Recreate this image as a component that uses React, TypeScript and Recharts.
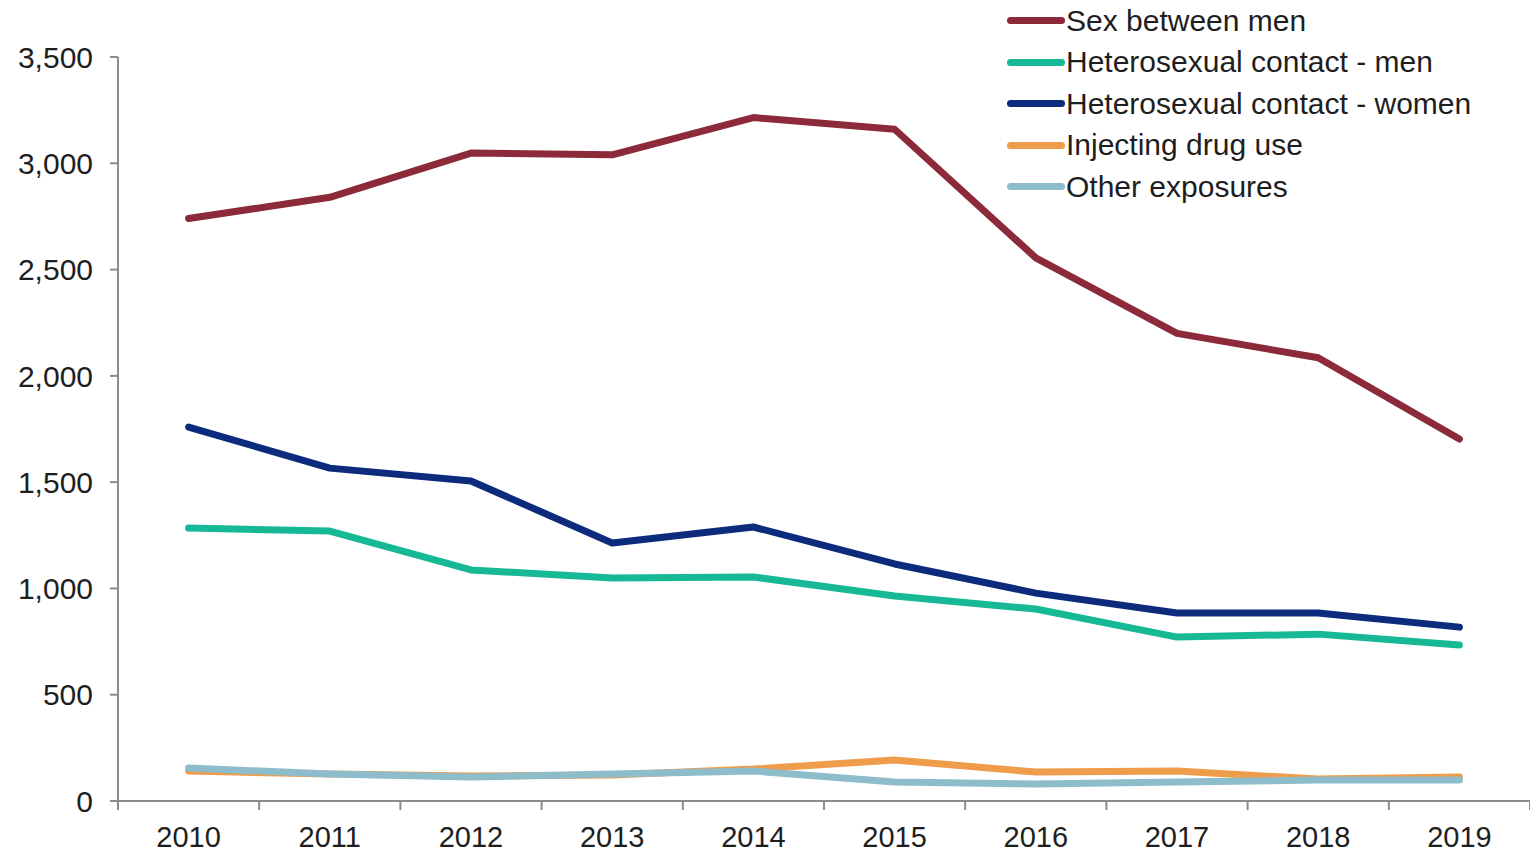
import React from "react";
import { LineChart, Line, XAxis, YAxis } from "recharts";

const years = ["2010", "2011", "2012", "2013", "2014", "2015", "2016", "2017", "2018", "2019"];
const sexBetweenMen = [2740, 2840, 3048, 3040, 3215, 3160, 2555, 2200, 2085, 1703];
const heteroMen = [1284, 1270, 1087, 1049, 1054, 964, 903, 771, 785, 734];
const heteroWomen = [1759, 1566, 1505, 1214, 1289, 1115, 978, 884, 884, 818];
const injectingDrugUse = [141, 127, 118, 122, 150, 193, 136, 141, 103, 113];
const otherExposures = [155, 127, 113, 127, 141, 89, 80, 89, 99, 99];
const yTicks = [0, 500, 1000, 1500, 2000, 2500, 3000, 3500];

const series = [
  { key: "sbm", name: "Sex between men", color: "#8C2A3A", values: sexBetweenMen },
  { key: "hm", name: "Heterosexual contact - men", color: "#17B896", values: heteroMen },
  { key: "hw", name: "Heterosexual contact - women", color: "#0C2B7C", values: heteroWomen },
  { key: "idu", name: "Injecting drug use", color: "#EF9C4B", values: injectingDrugUse },
  { key: "oth", name: "Other exposures", color: "#8DBCCB", values: otherExposures },
];

const data = years.map((year, i) => {
  const row: Record<string, string | number> = { year };
  series.forEach((s) => (row[s.key] = s.values[i]));
  return row;
});

const W = 1530;
const H = 853;
const LEFT = 118;
const BAND = (W - LEFT) / years.length;
const FONT = "'Liberation Sans', Arial, sans-serif";

const XTick = (props: any) => {
  const { x, y, payload, index } = props;
  const axisY = y - 9;
  return (
    <g>
      <line x1={x - BAND / 2} x2={x - BAND / 2} y1={axisY} y2={axisY + 9} stroke="#8c8c8c" strokeWidth={2} />
      {index === years.length - 1 && (
        <line x1={x + BAND / 2} x2={x + BAND / 2} y1={axisY} y2={axisY + 9} stroke="#8c8c8c" strokeWidth={2} />
      )}
      <text x={x} y={axisY + 46} textAnchor="middle" fontSize={29} fill="#1e1e1e" fontFamily={FONT}>
        {payload.value}
      </text>
    </g>
  );
};

// legend drawn as plain html on top of the chart, so it does not shrink the plot
const LegendBox = () => (
  <div style={{ position: "absolute", top: 0, left: 1007, fontFamily: FONT }}>
    {series.map((s) => (
      <div key={s.key} style={{ display: "flex", alignItems: "center", height: 41.5 }}>
        <div style={{ width: 58, height: 7, borderRadius: 4, background: s.color, marginRight: 1 }} />
        <span style={{ fontSize: 30, color: "#1e1e1e", whiteSpace: "nowrap" }}>{s.name}</span>
      </div>
    ))}
  </div>
);

export default function App() {
  return (
    <div style={{ position: "absolute", left: 0, top: 0, width: W, height: H, background: "#fff" }}>
      <LineChart width={W} height={H} data={data} margin={{ top: 57, right: 0, left: 0, bottom: 0 }}>
        <XAxis
          dataKey="year"
          scale="band"
          height={52}
          tickLine={false}
          tickSize={9}
          tickMargin={0}
          tick={<XTick />}
          axisLine={{ stroke: "#8c8c8c", strokeWidth: 2 }}
          interval={0}
        />
        <YAxis
          width={LEFT}
          domain={[0, 3500]}
          ticks={yTicks}
          interval={0}
          tickFormatter={(v: number) => v.toLocaleString("en-US")}
          tickSize={8}
          tickMargin={17}
          tick={{ fontSize: 30, fill: "#1e1e1e", fontFamily: FONT }}
          axisLine={{ stroke: "#8c8c8c", strokeWidth: 2 }}
          tickLine={{ stroke: "#8c8c8c", strokeWidth: 2 }}
        />
        {series.map((s) => (
          <Line
            key={s.key}
            dataKey={s.key}
            name={s.name}
            stroke={s.color}
            strokeWidth={7}
            strokeLinecap="round"
            strokeLinejoin="round"
            dot={false}
            activeDot={false}
            isAnimationActive={false}
          />
        ))}
      </LineChart>
      <LegendBox />
    </div>
  );
}
